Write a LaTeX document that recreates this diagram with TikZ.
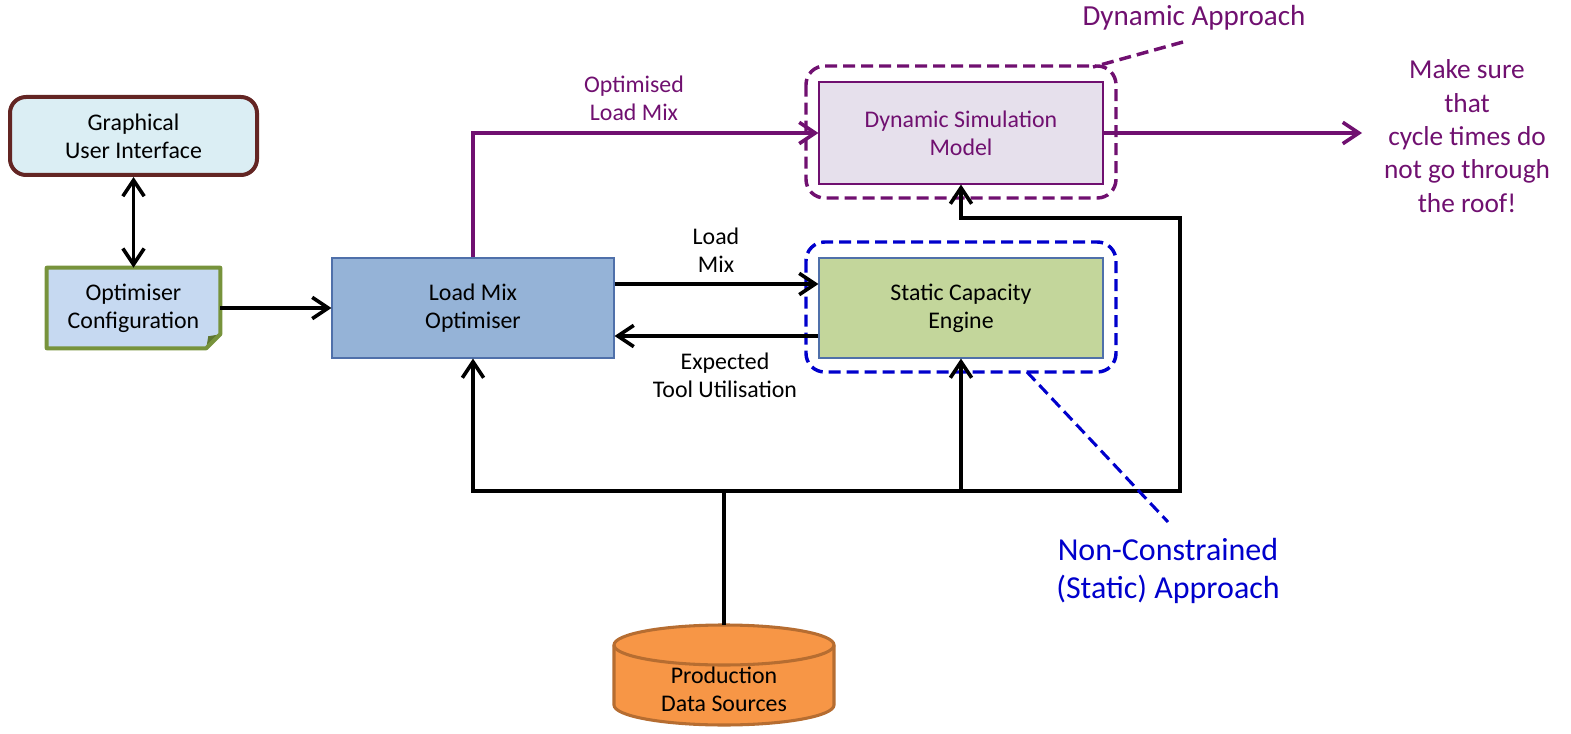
\documentclass[tikz,border=0pt]{standalone}
\usepackage{fontspec}
\setmainfont{Carlito}
\usetikzlibrary{arrows.meta,calc}
\definecolor{mypurple}{RGB}{112,16,112}
\definecolor{myblue}{RGB}{0,0,204}
\definecolor{guiborder}{RGB}{99,37,35}
\definecolor{guifill}{RGB}{219,238,244}
\definecolor{cfgborder}{RGB}{119,147,60}
\definecolor{cfgfill}{RGB}{198,217,241}
\definecolor{lmofill}{RGB}{149,179,215}
\definecolor{boxborder}{RGB}{79,112,170}
\definecolor{scefill}{RGB}{195,214,155}
\definecolor{dsmfill}{RGB}{230,224,236}
\definecolor{dbfill}{RGB}{247,150,70}
\definecolor{dbborder}{RGB}{182,109,49}
\tikzset{
  x=0.75pt, y=-0.75pt,
  txt/.style={font=\fontsize{17.9}{21}\selectfont, align=center},
  bigtxt/.style={font=\fontsize{20.5}{25}\selectfont, align=center},
  arr/.style={line width=2.7pt, -{Straight Barb[length=12pt,width=16pt,line width=2.7pt]}},
  dblarr/.style={line width=2.7pt, {Straight Barb[length=12pt,width=16pt,line width=2.7pt]}-{Straight Barb[length=12pt,width=16pt,line width=2.7pt]}},
  parr/.style={arr, draw=mypurple},
  frame/.style={line width=2.6pt, dash pattern=on 9pt off 4.5pt, rounded corners=14pt},
  block/.style={txt, draw=boxborder, line width=0.8pt},
}
\begin{document}
\begin{tikzpicture}
\useasboundingbox (0,0) rectangle (1571,734);

% dashed frames
\draw[frame, mypurple] (806,66) rectangle (1116,198);
\draw[frame, myblue] (806,242) rectangle (1116,372);

% GUI
\node[txt, draw=guiborder, fill=guifill, line width=3pt, rounded corners=12pt,
      minimum width=247*0.75pt, minimum height=78*0.75pt] (gui) at (133.5,136) {Graphical\\User Interface};

% Optimiser configuration (document with folded corner)
\node[txt, minimum width=173*0.75pt, minimum height=80*0.75pt] (cfg) at (133.5,308) {};
\fill[cfgfill] (cfg.north west) -- (cfg.north east) -- ($(cfg.south east)+(0,-14)$) -- ($(cfg.south east)+(-14,0)$) -- (cfg.south west) -- cycle;
\fill[cfgborder!80!black] ($(cfg.south east)+(0,-14)$) -- ($(cfg.south east)+(-14,0)$) -- ($(cfg.south east)+(-12,-12)$) -- cycle;
\draw[cfgborder, line width=3pt, line join=round] (cfg.north west) -- (cfg.north east) -- ($(cfg.south east)+(0,-14)$) -- ($(cfg.south east)+(-14,0)$) -- (cfg.south west) -- cycle;
\node[txt] (cfgtxt) at (cfg.center) {Optimiser\\Configuration};

% main blocks
\node[block, fill=lmofill, minimum width=282*0.75pt, minimum height=100*0.75pt] (lmo) at (473,308) {Load Mix\\Optimiser};
\node[block, fill=scefill, minimum width=284*0.75pt, minimum height=100*0.75pt] (sce) at (961,308) {Static Capacity\\Engine};
\node[block, draw=mypurple, text=mypurple, fill=dsmfill, minimum width=284*0.75pt, minimum height=102*0.75pt] (dsm) at (961,133) {Dynamic Simulation\\Model};

% database cylinder
\filldraw[fill=dbfill, draw=dbborder, line width=2.3pt]
  (614,645) -- (614,705) arc[start angle=180, end angle=0, x radius=110, y radius=20]
  -- (834,645) arc[start angle=0, end angle=-180, x radius=110, y radius=20] -- cycle;
\draw[dbborder, line width=2.3pt] (614,645) arc[start angle=180, end angle=0, x radius=110, y radius=20];
\node[txt] (db) at (724,689) {Production\\Data Sources};
\coordinate (dbtop) at (724,625);

% connectors
\draw[dblarr] (gui.south) -- (cfg.north);
\draw[arr] (cfg.east) -- (lmo.west);
\draw[parr] (lmo.north) |- (dsm.west);
\coordinate (lmy) at (0,284);
\coordinate (ety) at (0,336);
\draw[arr] (lmo.east |- lmy) -- (sce.west |- lmy);
\draw[arr] (sce.west |- ety) -- (lmo.east |- ety);
\coordinate (out) at (1362,133);
\draw[parr] (dsm.east) -- (out);

\coordinate (bus) at (724,491);
\coordinate (br) at (1180,491);
\coordinate (tr) at (1180,218);
\draw[line width=2.7pt] (dbtop) -- (bus);
\draw[arr] (bus) -| (lmo.south);
\draw[arr] (bus) -| (sce.south);
\draw[arr, line join=miter] (bus) -- (br) -- (tr) -| (dsm.south);

% labels
\node[txt, text=mypurple] (optlbl) at (634,98) {Optimised\\Load Mix};
\node[txt] (lmlbl) at (716,250) {Load\\Mix};
\node[txt] (etlbl) at (725,375) {Expected\\Tool Utilisation};
\node[bigtxt, text=mypurple] (mslbl) at (1467,136) {Make sure\\that\\cycle times do\\not go through\\the roof!};
\node[bigtxt, font=\fontsize{21.8}{26}\selectfont, text=mypurple] (dynlbl) at (1194,18) {Dynamic Approach};
\node[bigtxt, font=\fontsize{24}{28}\selectfont, text=myblue] (nclbl) at (1168,571) {Non-Constrained\\(Static) Approach};

% leader lines
\coordinate (dl1) at (1183,42);
\coordinate (dl2) at (1093,67);
\draw[mypurple, line width=2.6pt, dash pattern=on 9pt off 4.5pt] (dl1) -- (dl2);
\coordinate (nl1) at (1027,372);
\coordinate (nl2) at (1168,522);
\draw[myblue, line width=2.3pt, dash pattern=on 9pt off 4.5pt] (nl1) -- (nl2);
\end{tikzpicture}
\end{document}
